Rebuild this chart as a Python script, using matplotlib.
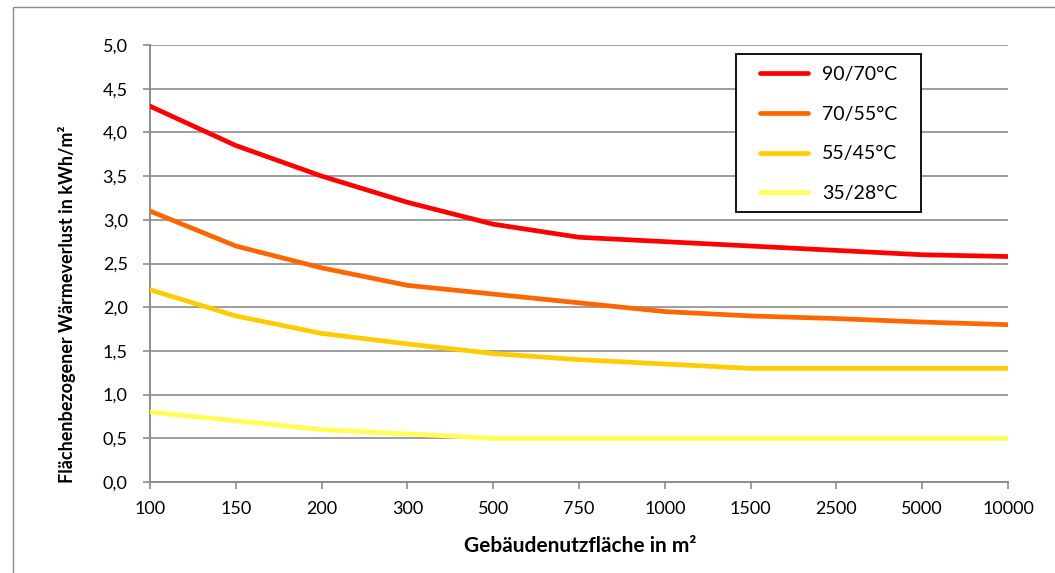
import matplotlib
matplotlib.use("Agg")
import matplotlib.pyplot as plt
from matplotlib.patches import Rectangle

categories = ["100", "150", "200", "300", "500", "750", "1000", "1500", "2500", "5000", "10000"]
s_90_70 = [4.3, 3.85, 3.5, 3.2, 2.95, 2.8, 2.75, 2.7, 2.65, 2.6, 2.58]
s_70_55 = [3.1, 2.7, 2.45, 2.25, 2.15, 2.05, 1.95, 1.9, 1.87, 1.83, 1.8]
s_55_45 = [2.2, 1.9, 1.7, 1.58, 1.47, 1.4, 1.35, 1.3, 1.3, 1.3, 1.3]
s_35_28 = [0.8, 0.7, 0.6, 0.55, 0.5, 0.5, 0.5, 0.5, 0.5, 0.5, 0.5]
series_labels = ["90/70°C", "70/55°C", "55/45°C", "35/28°C"]
series_colors = ["#FF0000", "#FF6600", "#FFCC00", "#FFFF55"]
y_ticks = [0.0, 0.5, 1.0, 1.5, 2.0, 2.5, 3.0, 3.5, 4.0, 4.5, 5.0]

plt.rcParams['font.family'] = ['Lato', 'DejaVu Sans']

W, H = 1055, 573
fig = plt.figure(figsize=(W / 100, H / 100), dpi=100)
fig.patch.set_facecolor("white")

# outer chart border (only top and left visible)
fig.patches.append(Rectangle((13 / W, -0.2), 1.5, (1 - 7 / H) + 0.2,
                             transform=fig.transFigure, fill=False,
                             edgecolor="#8a8a8a", linewidth=1.0))

ax = fig.add_axes([150 / W, 1 - 482 / H, (1008 - 150) / W, (482 - 45) / H])

x = list(range(len(categories)))
for vals, lab, col in zip([s_90_70, s_70_55, s_55_45, s_35_28], series_labels, series_colors):
    ax.plot(x, vals, color=col, linewidth=3.4, label=lab, solid_capstyle="round", zorder=3)

ax.set_xlim(0, len(categories) - 1)
ax.set_ylim(0, 5)
ax.set_yticks(y_ticks)
ax.set_yticklabels([f"{v:.1f}".replace(".", ",") for v in y_ticks])
ax.set_xticks(x)
ax.set_xticklabels(categories)

grid_col = "#8c8c8c"
ax.set_axisbelow(True)
ax.yaxis.grid(True, color=grid_col, linewidth=1.2)
ax.xaxis.grid(False)
for side in ["top", "right"]:
    ax.spines[side].set_visible(False)
for side in ["left", "bottom"]:
    ax.spines[side].set_color(grid_col)
    ax.spines[side].set_linewidth(1.4)
ax.tick_params(axis="both", colors=grid_col, labelcolor="black", labelsize=13,
               length=5, width=1.2, direction="out")
ax.tick_params(axis="x", pad=9)
ax.tick_params(axis="y", pad=11)

fig.text(580 / W, 1 - 546 / H, "Gebäudenutzfläche in m²", fontsize=15,
         fontweight="bold", ha="center", va="center")
fig.text(67 / W, 1 - 304 / H, "Flächenbezogener Wärmeverlust in kWh/m²", fontsize=13,
         fontweight="bold", ha="center", va="center", rotation=90)

# legend box (white, covers gridlines)
box = Rectangle((736 / W, 1 - 212 / H), (921 - 736) / W, (212 - 54) / H,
                transform=fig.transFigure, facecolor="white",
                edgecolor="black", linewidth=1.3, zorder=4, clip_on=False)
ax.add_patch(box)

leg = ax.legend(loc="upper left", bbox_to_anchor=(760 / W, 1 - 66 / H),
                bbox_transform=fig.transFigure, borderaxespad=0, borderpad=0,
                frameon=False, fontsize=14, labelspacing=1.17, handlelength=2.47,
                handletextpad=0.72)
leg.set_zorder(6)

fig.savefig("out.png", dpi=100, facecolor="white")
